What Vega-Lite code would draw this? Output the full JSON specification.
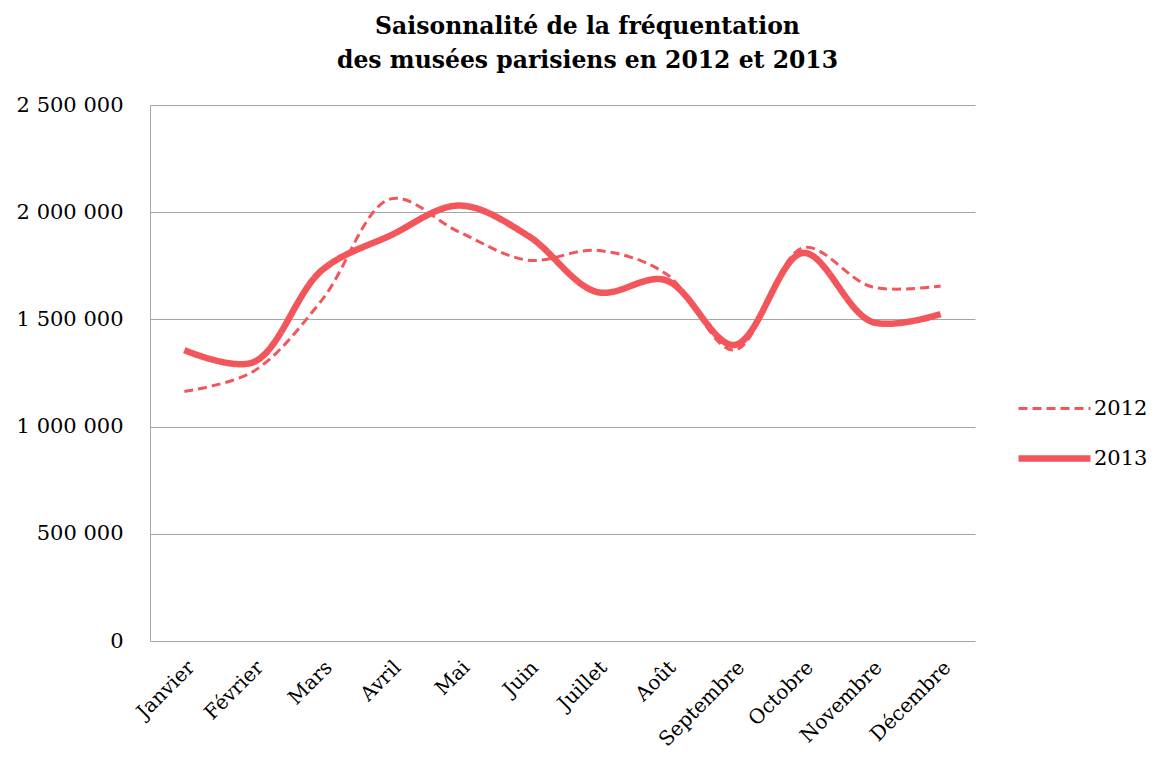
{
  "$schema": "https://vega.github.io/schema/vega-lite/v6.json",
  "autosize": "none",
  "width": 825,
  "height": 536,
  "padding": {"left": 150, "top": 105, "right": 183, "bottom": 124},
  "background": "white",
  "title": {
    "text": ["Saisonnalité de la fréquentation", "des musées parisiens en 2012 et 2013"],
    "font": "DejaVu Serif",
    "fontSize": 23.5,
    "fontWeight": "bold",
    "color": "#000000",
    "lineHeight": 34,
    "anchor": "middle",
    "dx": 25,
    "offset": 22
  },
  "data": {
    "values": [
      {"mois": "Janvier", "annee": "2012", "visites": 1164000},
      {"mois": "Février", "annee": "2012", "visites": 1257000},
      {"mois": "Mars", "annee": "2012", "visites": 1590000},
      {"mois": "Avril", "annee": "2012", "visites": 2062000},
      {"mois": "Mai", "annee": "2012", "visites": 1907000},
      {"mois": "Juin", "annee": "2012", "visites": 1776000},
      {"mois": "Juillet", "annee": "2012", "visites": 1822000},
      {"mois": "Août", "annee": "2012", "visites": 1714000},
      {"mois": "Septembre", "annee": "2012", "visites": 1357000},
      {"mois": "Octobre", "annee": "2012", "visites": 1834000},
      {"mois": "Novembre", "annee": "2012", "visites": 1652000},
      {"mois": "Décembre", "annee": "2012", "visites": 1656000},
      {"mois": "Janvier", "annee": "2013", "visites": 1357000},
      {"mois": "Février", "annee": "2013", "visites": 1300000},
      {"mois": "Mars", "annee": "2013", "visites": 1729000},
      {"mois": "Avril", "annee": "2013", "visites": 1892000},
      {"mois": "Mai", "annee": "2013", "visites": 2031000},
      {"mois": "Juin", "annee": "2013", "visites": 1890000},
      {"mois": "Juillet", "annee": "2013", "visites": 1628000},
      {"mois": "Août", "annee": "2013", "visites": 1683000},
      {"mois": "Septembre", "annee": "2013", "visites": 1381000},
      {"mois": "Octobre", "annee": "2013", "visites": 1810000},
      {"mois": "Novembre", "annee": "2013", "visites": 1489000},
      {"mois": "Décembre", "annee": "2013", "visites": 1525000}
    ]
  },
  "mark": {"type": "line", "interpolate": "catmull-rom", "color": "#F2555A", "strokeCap": "butt"},
  "encoding": {
    "x": {
      "field": "mois",
      "type": "nominal",
      "sort": ["Janvier", "Février", "Mars", "Avril", "Mai", "Juin", "Juillet", "Août", "Septembre", "Octobre", "Novembre", "Décembre"],
      "scale": {"type": "band", "paddingInner": 0, "paddingOuter": 0},
      "axis": {
        "title": null,
        "labelAngle": -45,
        "labelFont": "DejaVu Serif",
        "labelFontSize": 20,
        "labelColor": "#000000",
        "ticks": false,
        "labelPadding": 16,
        "domain": false,
        "grid": false
      }
    },
    "y": {
      "field": "visites",
      "type": "quantitative",
      "scale": {"domain": [0, 2500000], "nice": false},
      "axis": {
        "title": null,
        "values": [0, 500000, 1000000, 1500000, 2000000, 2500000],
        "labelExpr": "replace(format(datum.value, ','), /,/g, ' ')",
        "labelFont": "DejaVu Serif",
        "labelFontSize": 21,
        "labelColor": "#000000",
        "labelPadding": 27,
        "ticks": false,
        "domainColor": "#A6A6A6",
        "gridColor": "#A6A6A6",
        "gridWidth": 1.2,
        "gridOpacity": 1
      }
    },
    "strokeDash": {
      "field": "annee",
      "type": "nominal",
      "scale": {"domain": ["2012", "2013"], "range": [[9, 5], [1, 0]]},
      "legend": {
        "title": null,
        "orient": "none",
        "legendX": 865,
        "legendY": 266,
        "symbolType": "stroke",
        "symbolSize": 5184,
        "symbolStrokeColor": "#F2555A",
        "labelFont": "DejaVu Serif",
        "labelFontSize": 21,
        "labelColor": "#000000",
        "rowPadding": -10,
        "labelOffset": 0
      }
    },
    "strokeWidth": {
      "field": "annee",
      "type": "nominal",
      "scale": {"domain": ["2012", "2013"], "range": [3, 6.5]},
      "legend": {
        "title": null,
        "orient": "none",
        "legendX": 865,
        "legendY": 266,
        "symbolType": "stroke",
        "symbolSize": 5184,
        "symbolStrokeColor": "#F2555A",
        "labelFont": "DejaVu Serif",
        "labelFontSize": 21,
        "labelColor": "#000000",
        "rowPadding": -10,
        "labelOffset": 0
      }
    }
  },
  "config": {
    "view": {"stroke": null},
    "axisX": {"grid": false}
  }
}
